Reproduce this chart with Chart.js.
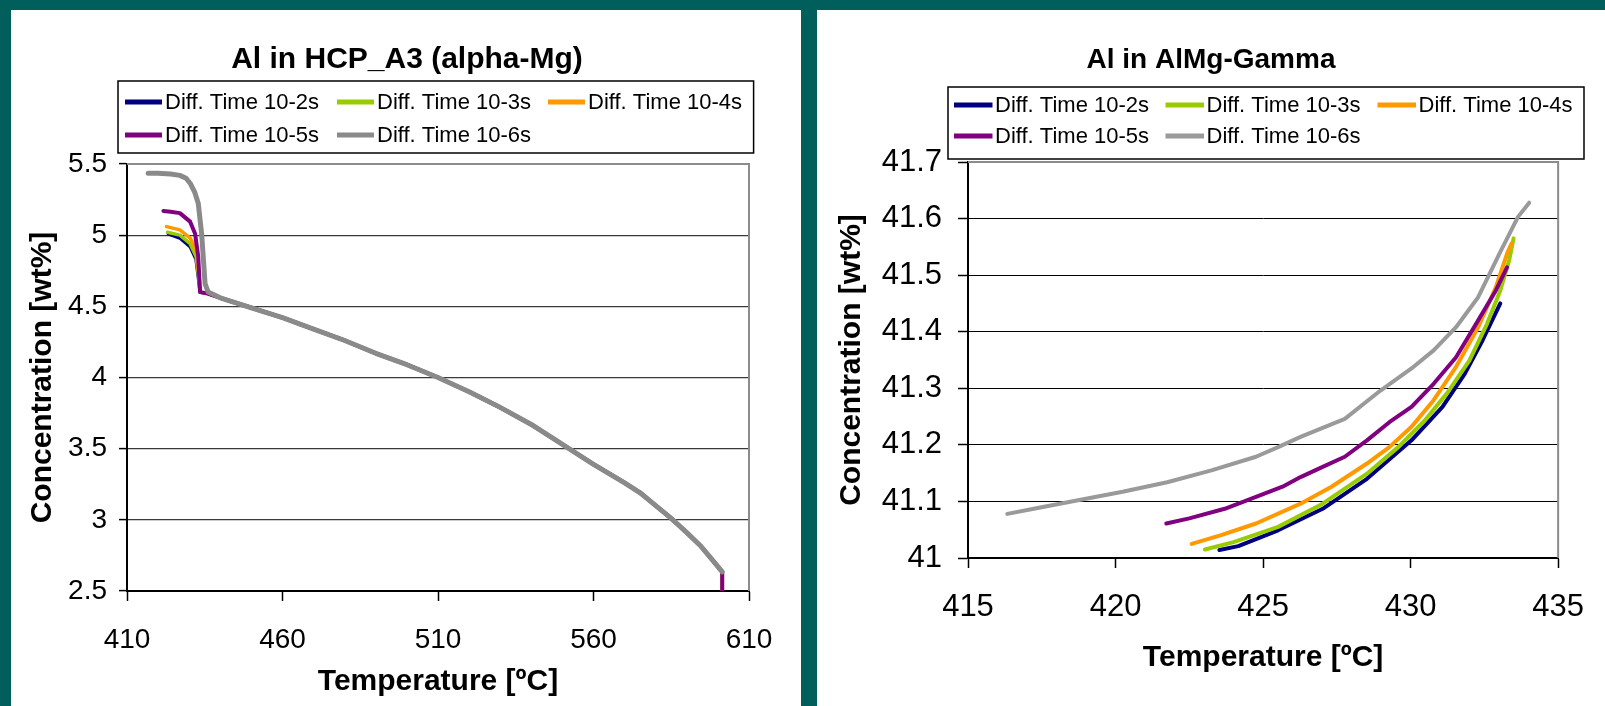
<!DOCTYPE html>
<html lang="en">
<head>
<meta charset="UTF-8">
<title>Al concentration vs temperature</title>
<script src="https://cdn.jsdelivr.net/npm/chart.js@4.4.1/dist/chart.umd.min.js"></script>
<style>
  body {
    margin: 0;
    width: 1605px;
    height: 706px;
    background: #005e5b;
    position: relative;
    overflow: hidden;
  }
  .panel {
    position: absolute;
    top: 10px;
    height: 696px;
    background: #fff;
  }
  #leftPanel { left: 11px; width: 790px; }
  #rightPanel { left: 817px; width: 788px; }
  canvas { display: block; }
</style>
</head>
<body>
<div class="panel" id="leftPanel"><canvas id="hcpChart" width="790" height="696"></canvas></div>
<div class="panel" id="rightPanel"><canvas id="gammaChart" width="788" height="696"></canvas></div>

<script>
const FONT = '"Liberation Sans", Arial, sans-serif';

const seriesLabels = ['Diff. Time 10-2s', 'Diff. Time 10-3s', 'Diff. Time 10-4s', 'Diff. Time 10-5s', 'Diff. Time 10-6s'];

// ---- left chart: Al in HCP_A3 (alpha-Mg) ----
const hcpXTicks = [410, 460, 510, 560, 610];
const hcpYTicks = [2.5, 3, 3.5, 4, 4.5, 5, 5.5];

// shared descending branch (all five runs lie on top of each other)
const hcpMainT = [436, 440, 450, 460, 470, 480, 490, 500, 510, 520, 530, 540, 550, 560, 570, 575, 580, 585, 590, 594.3, 597, 601.4];
const hcpMainC = [4.59, 4.56, 4.49, 4.42, 4.34, 4.26, 4.17, 4.09, 4.00, 3.90, 3.79, 3.67, 3.53, 3.39, 3.26, 3.19, 3.10, 3.01, 2.91, 2.82, 2.75, 2.635];
const hcpEndT = [601.4];
const hcpEndC = [2.5];

// start of each run, before it falls onto the shared branch
const hcpStartT2 = [423.3, 427, 430.3, 432.2, 433.1, 433.5];
const hcpStartC2 = [5.01, 4.98, 4.92, 4.83, 4.68, 4.6];
const hcpStartT3 = [423, 427, 430.3, 432.2, 433.1, 433.5];
const hcpStartC3 = [5.02, 5.0, 4.94, 4.85, 4.70, 4.6];
const hcpStartT4 = [422.7, 427, 430.3, 432.2, 433.1, 433.5];
const hcpStartC4 = [5.06, 5.037, 4.98, 4.90, 4.73, 4.6];
const hcpStartT5 = [421.7, 424, 427, 430.3, 431.9, 432.9, 433.5];
const hcpStartC5 = [5.17, 5.165, 5.155, 5.095, 5.01, 4.85, 4.6];
const hcpStartT6 = [416.8, 420, 424, 427, 429, 430.3, 431.8, 432.9, 434.0, 435.1, 436.1];
const hcpStartC6 = [5.435, 5.435, 5.43, 5.42, 5.40, 5.365, 5.30, 5.225, 5.01, 4.66, 4.60];

// ---- right chart: Al in AlMg-Gamma ----
const gamXTicks = [415, 420, 425, 430, 435];
const gamYTicks = [41, 41.1, 41.2, 41.3, 41.4, 41.5, 41.6, 41.7];

const gamT2 = [423.52, 424.16, 425.51, 427.02, 428.52, 430.03, 431.08, 431.84, 432.44, 433.04];
const gamC2 = [41.014, 41.021, 41.049, 41.087, 41.140, 41.208, 41.267, 41.326, 41.385, 41.450];
const gamT3 = [423.03, 424.0, 425.51, 427.02, 428.52, 429.58, 430.48, 431.23, 431.99, 432.59, 433.04, 433.34, 433.49];
const gamC3 = [41.015, 41.028, 41.055, 41.096, 41.149, 41.196, 41.243, 41.291, 41.349, 41.414, 41.473, 41.526, 41.565];
const gamT4 = [422.58, 423.55, 424.76, 426.27, 427.32, 428.52, 429.28, 430.03, 430.78, 431.54, 432.29, 432.89, 433.27, 433.42];
const gamC4 = [41.025, 41.040, 41.061, 41.096, 41.126, 41.167, 41.196, 41.232, 41.279, 41.338, 41.408, 41.479, 41.538, 41.556];
const gamT5 = [421.72, 422.5, 423.7, 424.76, 425.66, 426.27, 427.02, 427.77, 428.52, 429.28, 430.03, 430.78, 431.54, 432.29, 432.89, 433.27];
const gamC5 = [41.061, 41.070, 41.087, 41.108, 41.126, 41.143, 41.161, 41.179, 41.208, 41.240, 41.267, 41.308, 41.355, 41.420, 41.473, 41.514];
const gamT6 = [416.33, 417.23, 418.73, 420.24, 421.75, 423.25, 424.76, 425.51, 426.27, 427.77, 428.98, 430.03, 430.78, 431.54, 432.29, 433.04, 433.64, 434.02];
const gamC6 = [41.078, 41.087, 41.102, 41.117, 41.134, 41.155, 41.179, 41.196, 41.214, 41.246, 41.296, 41.335, 41.367, 41.408, 41.461, 41.541, 41.603, 41.628];

function toPoints(ts, cs) {
  return ts.map((t, i) => ({ x: t, y: cs[i] }));
}

// title, legend box and the grey plot frame, drawn on the chart canvas
const panelDecor = {
  id: 'panelDecor',
  beforeDatasetsDraw(chart, args, opts) {
    const a = chart.chartArea;
    const ctx = chart.ctx;
    ctx.save();
    ctx.strokeStyle = opts.frameColor;
    ctx.lineWidth = opts.frameWidth;
    ctx.beginPath();
    ctx.moveTo(a.left, a.top);
    ctx.lineTo(a.right, a.top);
    ctx.lineTo(a.right, a.bottom);
    ctx.stroke();
    ctx.restore();
  },
  afterDraw(chart, args, opts) {
    const ctx = chart.ctx;
    const L = opts.legend;
    ctx.save();
    ctx.fillStyle = '#000';
    ctx.textAlign = 'center';
    ctx.textBaseline = 'middle';
    ctx.font = 'bold ' + opts.titleSize + 'px ' + FONT;
    ctx.fillText(opts.title, opts.titleX, opts.titleY);

    ctx.strokeStyle = '#000';
    ctx.lineWidth = 1.5;
    ctx.strokeRect(L.x, L.y, L.w, L.h);
    ctx.font = L.fontSize + 'px ' + FONT;
    ctx.textAlign = 'left';
    chart.data.datasets.forEach((ds, i) => {
      const x = L.cols[i % 3];
      const y = L.rows[Math.floor(i / 3)];
      ctx.strokeStyle = ds.borderColor;
      ctx.lineWidth = L.lineWidth;
      ctx.beginPath();
      ctx.moveTo(x, y);
      ctx.lineTo(x + L.sample, y);
      ctx.stroke();
      ctx.fillStyle = '#000';
      ctx.fillText(ds.label, x + L.sample + L.gap, y + 1);
    });
    ctx.restore();
  }
};

function makeChart(id, cfg) {
  const ticksFrom = arr => scale => { scale.ticks = arr.map(v => ({ value: v })); };
  return new Chart(document.getElementById(id), {
    type: 'line',
    data: { datasets: cfg.datasets },
    options: {
      responsive: false,
      animation: false,
      devicePixelRatio: 1,
      layout: { padding: cfg.padding },
      elements: { point: { radius: 0 } },
      plugins: {
        legend: { display: false },
        title: { display: false },
        tooltip: { enabled: false },
        panelDecor: cfg.decor
      },
      scales: {
        x: {
          type: 'linear',
          min: cfg.xTicks[0],
          max: cfg.xTicks[cfg.xTicks.length - 1],
          afterBuildTicks: ticksFrom(cfg.xTicks),
          afterFit: s => { s.height = cfg.xHeight; },
          grid: { drawOnChartArea: false, drawTicks: true, tickLength: 10, tickColor: '#000', tickWidth: 1.5 },
          border: { color: '#000', width: 2 },
          ticks: { color: '#000', font: { size: cfg.tickSize }, padding: cfg.xTickPad, maxRotation: 0, callback: v => String(v) },
          title: { display: true, text: 'Temperature [ºC]', color: '#000', font: { size: cfg.axisTitleSize, weight: 'bold' }, padding: { top: 0, bottom: cfg.xTitlePad } }
        },
        y: {
          type: 'linear',
          min: cfg.yTicks[0],
          max: cfg.yTicks[cfg.yTicks.length - 1],
          afterBuildTicks: ticksFrom(cfg.yTicks),
          afterFit: s => { s.width = cfg.yWidth; },
          grid: {
            color: c => (c.tick && c.tick.value === cfg.yTicks[cfg.yTicks.length - 1]) ? 'rgba(0,0,0,0)' : cfg.gridColor,
            lineWidth: cfg.gridWidth,
            drawTicks: true,
            tickLength: cfg.yTickLen,
            tickColor: '#000',
            tickWidth: 1.5
          },
          border: { color: '#000', width: 2 },
          ticks: { color: '#000', font: { size: cfg.tickSize }, padding: cfg.yTickPad, callback: v => String(v) },
          title: { display: true, text: 'Concentration [wt%]', color: '#000', font: { size: cfg.axisTitleSize, weight: 'bold' }, padding: { top: cfg.yTitlePad, bottom: 0 } }
        }
      }
    },
    plugins: [panelDecor]
  });
}

Chart.defaults.font.family = FONT;

const lineStyle = { fill: false, tension: 0, borderCapStyle: 'round', borderJoinStyle: 'round', pointRadius: 0 };

makeChart('hcpChart', {
  padding: { left: 0, top: 154, right: 52, bottom: 0 },
  yWidth: 116, xHeight: 115,
  xTicks: hcpXTicks, yTicks: hcpYTicks,
  tickSize: 28, axisTitleSize: 30,
  xTickPad: 22, yTickPad: 12, yTickLen: 8,
  xTitlePad: 6, yTitlePad: 14,
  gridColor: '#3a3a3a', gridWidth: 1.2,
  datasets: [
    Object.assign({ label: seriesLabels[0], borderColor: '#000080', borderWidth: 3.5, order: 4,
      data: toPoints([...hcpStartT2, ...hcpMainT, ...hcpEndT], [...hcpStartC2, ...hcpMainC, ...hcpEndC]) }, lineStyle),
    Object.assign({ label: seriesLabels[1], borderColor: '#99cc00', borderWidth: 3.5, order: 3,
      data: toPoints([...hcpStartT3, ...hcpMainT, ...hcpEndT], [...hcpStartC3, ...hcpMainC, ...hcpEndC]) }, lineStyle),
    Object.assign({ label: seriesLabels[2], borderColor: '#ff9900', borderWidth: 3.5, order: 2,
      data: toPoints([...hcpStartT4, ...hcpMainT, ...hcpEndT], [...hcpStartC4, ...hcpMainC, ...hcpEndC]) }, lineStyle),
    Object.assign({ label: seriesLabels[3], borderColor: '#800080', borderWidth: 4, order: 1,
      data: toPoints([...hcpStartT5, ...hcpMainT, ...hcpEndT], [...hcpStartC5, ...hcpMainC, ...hcpEndC]) }, lineStyle),
    Object.assign({ label: seriesLabels[4], borderColor: '#8a8a8a', borderWidth: 5, order: 0,
      data: toPoints([...hcpStartT6, ...hcpMainT.slice(1)], [...hcpStartC6, ...hcpMainC.slice(1)]) }, lineStyle)
  ],
  decor: {
    title: 'Al in HCP_A3 (alpha-Mg)', titleSize: 30, titleX: 396, titleY: 49.5,
    frameColor: '#8c8c8c', frameWidth: 2,
    legend: { x: 107, y: 71, w: 635.6, h: 72, cols: [114, 326, 537], rows: [92, 125],
      sample: 37, gap: 3, lineWidth: 5, fontSize: 22 }
  }
});

makeChart('gammaChart', {
  padding: { left: 0, top: 152, right: 44, bottom: 0 },
  yWidth: 151, xHeight: 148,
  xTicks: gamXTicks, yTicks: gamYTicks,
  tickSize: 31, axisTitleSize: 30,
  xTickPad: 21, yTickPad: 16, yTickLen: 10,
  xTitlePad: 30, yTitlePad: 17,
  gridColor: '#000', gridWidth: 1,
  datasets: [
    Object.assign({ label: seriesLabels[0], borderColor: '#000080', borderWidth: 4, order: 4, data: toPoints(gamT2, gamC2) }, lineStyle),
    Object.assign({ label: seriesLabels[1], borderColor: '#99cc00', borderWidth: 4, order: 3, data: toPoints(gamT3, gamC3) }, lineStyle),
    Object.assign({ label: seriesLabels[2], borderColor: '#ff9900', borderWidth: 4, order: 2, data: toPoints(gamT4, gamC4) }, lineStyle),
    Object.assign({ label: seriesLabels[3], borderColor: '#800080', borderWidth: 4, order: 1, data: toPoints(gamT5, gamC5) }, lineStyle),
    Object.assign({ label: seriesLabels[4], borderColor: '#9a9a9a', borderWidth: 4, order: 0, data: toPoints(gamT6, gamC6) }, lineStyle)
  ],
  decor: {
    title: 'Al in AlMg-Gamma', titleSize: 28, titleX: 394, titleY: 50,
    frameColor: '#8c8c8c', frameWidth: 2,
    legend: { x: 131, y: 77, w: 636, h: 72, cols: [137, 348.5, 560.5], rows: [95, 126],
      sample: 38.5, gap: 2.5, lineWidth: 5, fontSize: 22 }
  }
});
</script>
</body>
</html>
